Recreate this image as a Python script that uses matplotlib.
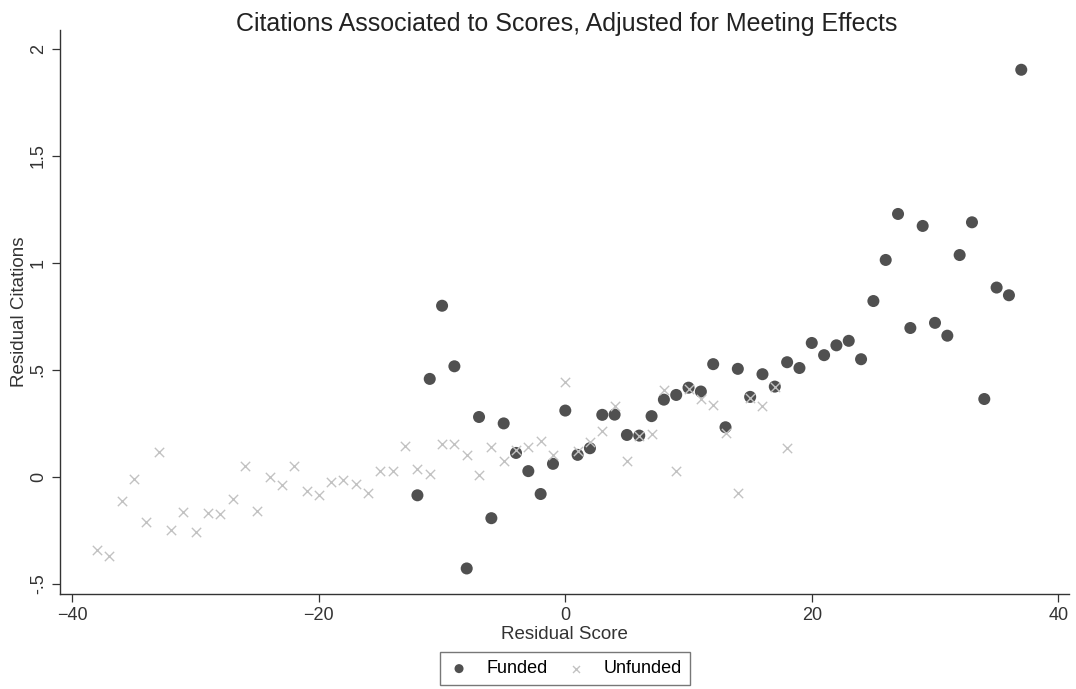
import numpy as np
import matplotlib
matplotlib.use("Agg")
import matplotlib.pyplot as plt

plt.rcParams['font.family'] = ['Liberation Sans', 'DejaVu Sans']

# funded applications: residual score vs residual citations
funded_x = list(range(-12, 38))
funded_y = [-0.086, 0.458, 0.80, 0.517, -0.428, 0.28, -0.193, 0.25, 0.112, 0.027,
            -0.08, 0.061, 0.31, 0.103, 0.134, 0.29, 0.291, 0.196, 0.193, 0.284,
            0.361, 0.383, 0.417, 0.399, 0.527, 0.232, 0.505, 0.374, 0.48, 0.422,
            0.536, 0.509, 0.626, 0.569, 0.615, 0.636, 0.55, 0.822, 1.014, 1.229,
            0.696, 1.173, 0.72, 0.66, 1.037, 1.19, 0.364, 0.885, 0.849, 1.903]

# unfunded applications
unfunded_x = list(range(-38, 19))
unfunded_y = [-0.344, -0.372, -0.115, -0.011, -0.213, 0.115, -0.25, -0.165, -0.257, -0.171,
              -0.173, -0.103, 0.053, -0.159, -0.001, -0.037, 0.05, -0.065, -0.083, -0.022,
              -0.014, -0.033, -0.075, 0.028, 0.028, 0.145, 0.036, 0.014, 0.154, 0.156,
              0.1, 0.008, 0.139, 0.072, 0.125, 0.142, 0.17, 0.1, 0.445, 0.12,
              0.165, 0.216, 0.332, 0.076, 0.19, 0.2, 0.405, 0.026, 0.41, 0.366,
              0.338, 0.204, -0.076, 0.37, 0.33, 0.42, 0.135]

x_ticks = [-40, -20, 0, 20, 40]
x_ticklabels = ['\u221240', '\u221220', '0', '20', '40']
y_ticks = [-0.5, 0, 0.5, 1, 1.5, 2]
y_ticklabels = ['-.5', '0', '.5', '1', '1.5', '2']

fig = plt.figure(figsize=(10.76, 6.89), dpi=100)
ax = fig.add_axes([0.0558, 0.138, 0.938, 0.8185])

ax.scatter(funded_x, funded_y, s=75, color='#505050', edgecolors='none',
           label='Funded', zorder=2)
ax.scatter(unfunded_x, unfunded_y, s=45, marker='x', color='#c2c2c2',
           linewidths=1.0, label='Unfunded', zorder=3)

ax.set_xlim(-41.0, 40.9)
ax.set_ylim(-0.547, 2.089)
ax.set_xticks(x_ticks)
ax.set_xticklabels(x_ticklabels, fontsize=13)
ax.set_yticks(y_ticks)
ax.set_yticklabels(y_ticklabels, fontsize=13, rotation=90, va='center')
ax.tick_params(direction='out', length=6, width=0.9, colors='#333333')

for side in ['top', 'right']:
    ax.spines[side].set_visible(False)
for side in ['left', 'bottom']:
    ax.spines[side].set_color('#333333')
    ax.spines[side].set_linewidth(1.0)

ax.set_xlabel('Residual Score', fontsize=13.5, color='#333333', labelpad=1)
ax.set_ylabel('Residual Citations', fontsize=13.5, color='#333333', labelpad=1)
fig.text(0.527, 0.982, 'Citations Associated to Scores, Adjusted for Meeting Effects',
         fontsize=18, color='#222222', ha='center', va='top')

leg = fig.legend(loc='lower center', bbox_to_anchor=(0.525, -0.008), ncol=2,
                 fontsize=13, frameon=True, fancybox=False, borderpad=0.45,
                 handlelength=1.2, handletextpad=0.9, columnspacing=1.0,
                 markerscale=0.75)
leg.get_frame().set_edgecolor('#555555')
leg.get_frame().set_linewidth(1.0)

fig.savefig('out.png', dpi=100, facecolor='white')
